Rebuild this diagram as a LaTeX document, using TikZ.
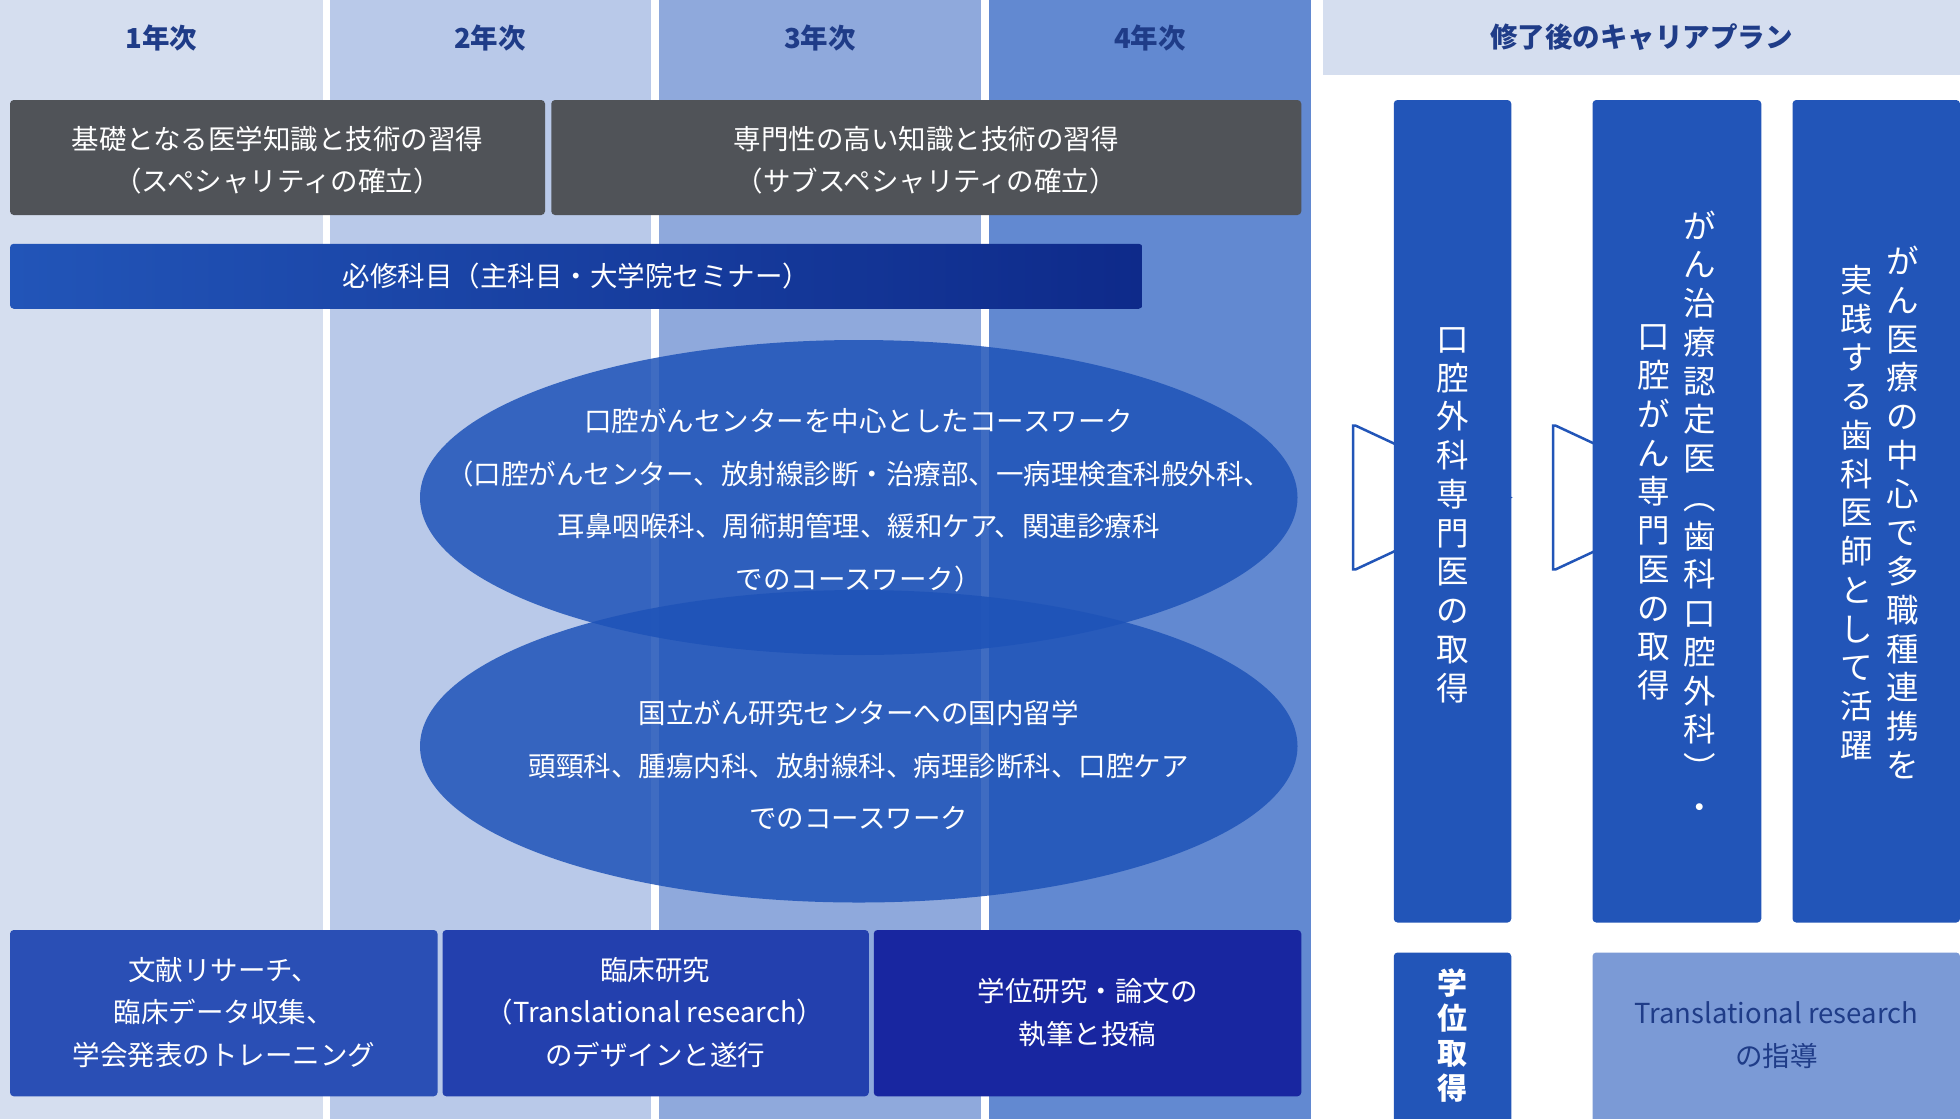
\documentclass[tikz,border=0pt]{standalone}
\usepackage{fontspec}
\setmainfont{Noto Sans CJK JP}
\setsansfont{Noto Sans CJK JP}
\usetikzlibrary{shapes.arrows}
\definecolor{c1}{HTML}{D5DEEF}
\definecolor{c2}{HTML}{B9C9E9}
\definecolor{c3}{HTML}{8FA9DC}
\definecolor{c4}{HTML}{6289D1}
\definecolor{hd}{HTML}{1F3C88}
\definecolor{gr}{HTML}{505358}
\definecolor{bl}{HTML}{2255B8}
\definecolor{el}{HTML}{1E53B8}
\definecolor{lb}{HTML}{7B9AD6}
\definecolor{bb1}{HTML}{2A4FB5}
\definecolor{bb2}{HTML}{2340AE}
\definecolor{bb3}{HTML}{1826A0}
\definecolor{dk}{HTML}{0E2A8A}
\tikzset{
 hdr/.style={font=\fontsize{22}{26}\selectfont\bfseries, text=hd},
 gbox/.style={fill=gr, rounded corners=3pt, text=white, align=center, font=\fontsize{22}{34}\selectfont},
 bbox/.style={rounded corners=3pt, text=white, align=center, font=\fontsize{22}{34}\selectfont},
 vt/.style={text=white, align=center, font=\fontsize{26}{31}\selectfont, inner sep=0},
 etxt/.style={text=white, align=center, font=\fontsize{22}{42}\selectfont},
 arr/.style={single arrow, draw=bl, line width=2pt, fill=white, minimum width=115pt, single arrow head extend=0pt, single arrow tip angle=50, minimum height=43pt, inner sep=0, shape border rotate=0},
}
\begin{document}
\begin{tikzpicture}[x=1pt,y=-1pt]
\useasboundingbox (0,0) rectangle (1568,895);
\fill[white] (0,0) rectangle (1568,895);
\fill[c1] (0,0) rectangle (258,895);
\fill[c2] (264,0) rectangle (521,895);
\fill[c3] (527,0) rectangle (785,895);
\fill[c4] (791,0) rectangle (1049,895);
\node[hdr] (h1) at (129,30) {1年次};
\node[hdr] (h2) at (392,30) {2年次};
\node[hdr] (h3) at (656,30) {3年次};
\node[hdr] (h4) at (920,30) {4年次};
\fill[c1] (1058,0) rectangle (1568,60);
\node[hdr] (hc) at (1313,30) {修了後のキャリアプラン};
\path[gbox] (8,80) rectangle (436,172);
\node[gbox,fill=none] (g1) at (222,128) {基礎となる医学知識と技術の習得\\（スペシャリティの確立）};
\path[gbox] (441,80) rectangle (1041,172);
\node[gbox,fill=none] (g2) at (741,128) {専門性の高い知識と技術の習得\\（サブスペシャリティの確立）};
\shade[left color=bl, right color=dk, rounded corners=3pt] (8,195) rectangle (914,247);
\node[text=white, font=\fontsize{22}{26}\selectfont] (req) at (461,221) {必修科目（主科目・大学院セミナー）};
\fill[el, fill opacity=0.85] (687,398) ellipse [x radius=351, y radius=126];
\fill[el, fill opacity=0.85] (687,597) ellipse [x radius=351, y radius=125];
\node[etxt] (e1) at (687,400) {口腔がんセンターを中心としたコースワーク\\（口腔がんセンター、放射線診断・治療部、一病理検査科般外科、\\耳鼻咽喉科、周術期管理、緩和ケア、関連診療科\\でのコースワーク）};
\node[etxt] (e2) at (687,612) {国立がん研究センターへの国内留学\\頭頸科、腫瘍内科、放射線科、病理診断科、口腔ケア\\でのコースワーク};
\fill[bb1, rounded corners=3pt] (8,744) rectangle (350,877);
\fill[bb2, rounded corners=3pt] (354,744) rectangle (695,877);
\fill[bb3, rounded corners=3pt] (699,744) rectangle (1041,877);
\node[bbox] (b1) at (179,810) {文献リサーチ、\\臨床データ収集、\\学会発表のトレーニング};
\node[bbox] (b2) at (524,810) {臨床研究\\（Translational research）\\のデザインと遂行};
\node[bbox] (b3) at (870,810) {学位研究・論文の\\執筆と投稿};
\node[arr] (a1) at (1083.5,398) {};
\node[arr] (a2) at (1243.5,398) {};
\fill[bl, rounded corners=3pt] (1115,80) rectangle (1209,738);
\fill[bl, rounded corners=3pt] (1274,80) rectangle (1409,738);
\fill[bl, rounded corners=3pt] (1434,80) rectangle (1568,738);
\node[vt] (v1) at (1162,412) {口\\腔\\外\\科\\専\\門\\医\\の\\取\\得};
\node[vt] (v2a) at (1360,412) {が\\ん\\治\\療\\認\\定\\医\\︵\\歯\\科\\口\\腔\\外\\科\\︶\\・};
\node[vt] (v2b) at (1323,410) {口\\腔\\が\\ん\\専\\門\\医\\の\\取\\得};
\node[vt] (v3a) at (1522,410) {が\\ん\\医\\療\\の\\中\\心\\で\\多\\職\\種\\連\\携\\を};
\node[vt] (v3b) at (1485,410) {実\\践\\す\\る\\歯\\科\\医\\師\\と\\し\\て\\活\\躍};
\fill[bl, rounded corners=3pt] (1115,762) rectangle (1209,900);
\node[vt, font=\fontsize{24}{28}\selectfont\bfseries] (v4) at (1162,828) {学\\位\\取\\得};
\fill[lb, rounded corners=3pt] (1274,762) rectangle (1568,900);
\node[bbox, text=hd] (tr) at (1421,828) {Translational research\\の指導};
\end{tikzpicture}
\end{document}
